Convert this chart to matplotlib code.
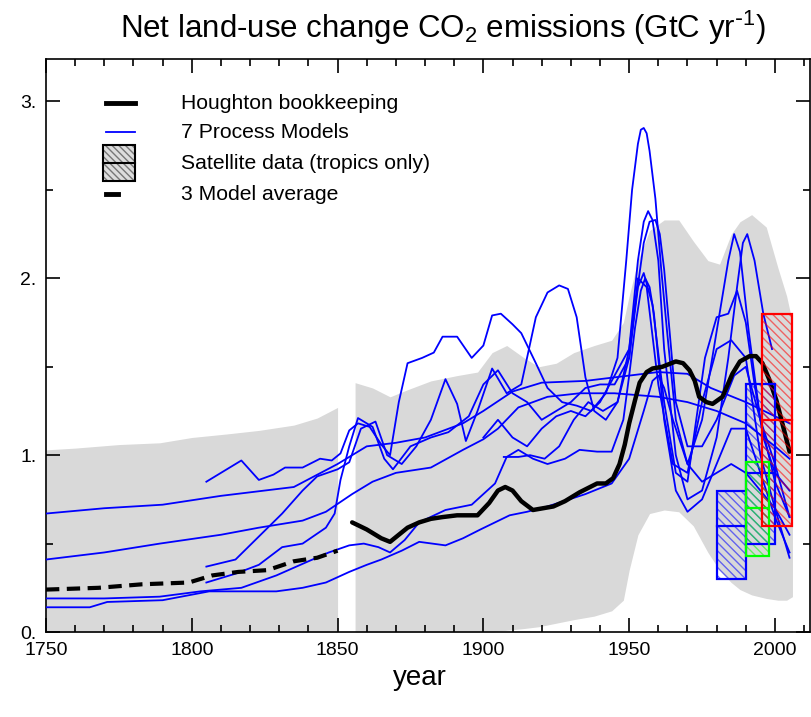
import matplotlib
matplotlib.use('Agg')
import matplotlib.pyplot as plt
from matplotlib.patches import Rectangle
from matplotlib.lines import Line2D
from matplotlib.ticker import MultipleLocator, FuncFormatter

plt.rcParams['font.family'] = ['Liberation Sans', 'DejaVu Sans']
plt.rcParams['mathtext.default'] = 'regular'

# grey envelope (two pieces, gap around 1850-1856)
env1_years = [1750, 1760, 1775, 1789, 1800, 1812, 1823, 1835, 1843, 1850]
env1_upper = [1.03, 1.04, 1.06, 1.07, 1.10, 1.12, 1.14, 1.17, 1.21, 1.27]
env1_lower = [0, 0, 0, 0, 0, 0, 0, 0, 0, 0]

env2_years = [1856, 1862, 1868, 1874, 1882, 1891, 1898, 1903, 1908, 1914,
              1919, 1925, 1931, 1938, 1944, 1948, 1950, 1953, 1957, 1962,
              1967, 1972, 1977, 1981, 1985, 1988, 1992, 1997, 2001, 2004, 2006]
env2_upper = [1.41, 1.38, 1.33, 1.37, 1.42, 1.45, 1.47, 1.58, 1.62, 1.55,
              1.50, 1.52, 1.58, 1.62, 1.65, 1.75, 1.90, 2.10, 2.27, 2.33,
              2.33, 2.21, 2.10, 2.08, 2.25, 2.32, 2.36, 2.29, 2.06, 1.90, 1.75]
env2_lower = [0, 0, 0, 0, 0, 0, 0, 0, 0.01, 0.02,
              0.03, 0.05, 0.07, 0.09, 0.12, 0.18, 0.35, 0.55, 0.67, 0.69,
              0.68, 0.60, 0.45, 0.35, 0.28, 0.24, 0.21, 0.19, 0.18, 0.18, 0.20]

# Houghton bookkeeping
hough_years = [1855, 1860, 1865, 1868, 1871, 1874, 1878, 1882, 1886, 1891, 1898,
               1902, 1905, 1907.5, 1910, 1913, 1917, 1924, 1928, 1933, 1939,
               1942, 1944.5, 1946.7, 1948.5, 1950, 1952, 1953.6, 1956, 1958,
               1961.4, 1966, 1968.5, 1970.7, 1972.5, 1974, 1976.5, 1978.6, 1982,
               1985.4, 1988, 1991.3, 1993.5, 1995.7, 1998, 2000.5, 2003, 2005]
hough_vals = [0.62, 0.58, 0.53, 0.51, 0.55, 0.59, 0.62, 0.64, 0.65, 0.66, 0.66,
              0.73, 0.80, 0.82, 0.80, 0.74, 0.69, 0.71, 0.74, 0.79, 0.84,
              0.84, 0.87, 0.95, 1.06, 1.18, 1.31, 1.41, 1.47, 1.49,
              1.50, 1.53, 1.52, 1.48, 1.42, 1.33, 1.30, 1.29, 1.33,
              1.46, 1.53, 1.56, 1.56, 1.52, 1.43, 1.31, 1.15, 1.02]

# 3 model average
avg_years = [1750, 1768, 1783, 1799, 1807, 1816, 1826, 1835, 1843, 1850]
avg_vals = [0.24, 0.25, 0.27, 0.28, 0.32, 0.34, 0.35, 0.40, 0.42, 0.46]

# process models
model_a_years = [1750, 1770, 1790, 1810, 1835, 1850, 1860, 1870, 1880, 1893, 1900,
                 1910, 1920, 1935, 1945, 1960, 1970, 1978, 1990, 2000, 2005]
model_a_vals = [0.67, 0.70, 0.72, 0.77, 0.82, 0.95, 1.05, 1.07, 1.10, 1.18, 1.25,
                1.36, 1.41, 1.42, 1.44, 1.47, 1.46, 1.38, 1.30, 1.22, 1.18]

model_b_years = [1750, 1770, 1789, 1810, 1823, 1838, 1846, 1855, 1862, 1870, 1882,
                 1893, 1900, 1905, 1912, 1922, 1933, 1945, 1960, 1970, 1980, 1990,
                 2000, 2005]
model_b_vals = [0.41, 0.45, 0.50, 0.55, 0.59, 0.63, 0.68, 0.78, 0.85, 0.90, 0.93,
                1.03, 1.09, 1.15, 1.27, 1.33, 1.35, 1.35, 1.33, 1.30, 1.25, 1.18,
                1.05, 0.98]

model_c_years = [1750, 1770, 1789, 1803, 1817, 1829, 1840, 1847, 1854, 1859, 1864,
                 1868, 1873, 1878, 1887, 1896, 1904, 1908, 1912, 1917, 1922, 1928,
                 1933, 1939, 1944, 1948, 1950, 1952, 1954, 1955.5, 1957, 1958.5,
                 1962, 1966, 1970, 1975, 1980, 1985, 1990, 1995, 2000, 2005]
model_c_vals = [0.19, 0.19, 0.20, 0.23, 0.25, 0.32, 0.40, 0.45, 0.49, 0.50, 0.48,
                0.45, 0.52, 0.62, 0.69, 0.72, 0.84, 0.99, 1.03, 0.98, 0.95, 0.98,
                1.03, 1.02, 1.02, 1.20, 1.45, 1.72, 1.93, 2.00, 1.95, 1.80,
                1.20, 0.80, 0.68, 0.75, 0.95, 1.15, 1.15, 0.90, 0.65, 0.45]

model_d_years = [1750, 1765, 1771, 1790, 1806, 1818, 1829, 1838, 1846, 1854, 1860,
                 1865, 1872, 1878, 1887, 1893, 1899, 1909, 1915, 1922, 1935, 1944,
                 1950, 1955, 1958, 1960, 1962, 1965, 1970, 1975, 1980, 1985, 1990,
                 1995, 2000, 2005]
model_d_vals = [0.14, 0.14, 0.17, 0.18, 0.23, 0.23, 0.23, 0.25, 0.28, 0.34, 0.38,
                0.41, 0.46, 0.51, 0.49, 0.53, 0.58, 0.66, 0.68, 0.71, 0.78, 0.84,
                0.98, 1.25, 1.42, 1.45, 1.38, 1.20, 0.95, 0.85, 0.90, 0.95, 0.90,
                0.80, 0.70, 0.55]

model_e_years = [1805, 1811, 1817, 1823, 1828, 1832, 1838, 1844, 1848, 1851, 1854,
                 1857, 1861, 1865, 1868, 1871, 1874, 1879, 1883, 1886, 1891, 1896,
                 1900, 1903, 1906, 1910, 1913, 1918, 1922, 1927, 1932, 1937, 1942,
                 1946, 1949, 1951, 1953, 1954, 1955, 1956, 1957, 1959, 1961, 1963,
                 1966, 1970, 1975, 1980, 1984, 1986, 1988, 1991, 1995, 2000, 2005]
model_e_vals = [0.85, 0.91, 0.97, 0.86, 0.89, 0.93, 0.93, 0.98, 0.97, 1.01, 1.14,
                1.18, 1.16, 1.06, 1.00, 1.30, 1.52, 1.55, 1.58, 1.67, 1.67, 1.55,
                1.62, 1.79, 1.80, 1.74, 1.69, 1.52, 1.38, 1.30, 1.28, 1.25, 1.35,
                1.55, 2.10, 2.50, 2.76, 2.84, 2.85, 2.82, 2.72, 2.45, 2.05, 1.70,
                1.20, 0.95, 1.20, 1.70, 2.10, 2.25, 2.15, 1.70, 1.20, 0.85, 0.65]

model_f_years = [1805, 1815, 1823, 1831, 1838, 1843, 1850, 1854, 1858, 1863, 1867,
                 1872, 1877, 1882, 1887, 1891, 1894, 1898, 1903, 1908, 1913, 1918,
                 1922, 1926, 1929, 1932, 1935, 1938, 1942, 1946, 1950, 1953, 1955,
                 1956.5, 1958, 1960, 1962, 1966, 1970, 1975, 1980, 1984, 1987, 1989,
                 1990.5, 1993, 1996, 1999]
model_f_vals = [0.37, 0.41, 0.54, 0.67, 0.80, 0.88, 0.92, 0.96, 1.15, 1.19, 1.00,
                0.95, 1.05, 1.20, 1.43, 1.29, 1.08, 1.25, 1.49, 1.35, 1.40, 1.78,
                1.92, 1.96, 1.94, 1.78, 1.44, 1.25, 1.20, 1.30, 1.60, 2.10, 2.32,
                2.38, 2.33, 2.10, 1.60, 1.00, 0.75, 0.80, 1.10, 1.55, 1.95, 2.20,
                2.25, 2.10, 1.80, 1.60]

model_g_years = [1805, 1815, 1823, 1831, 1838, 1846, 1849, 1851, 1854, 1857, 1862,
                 1866, 1869, 1875, 1882, 1888, 1895, 1900, 1905, 1910, 1915, 1920,
                 1925, 1930, 1935, 1940, 1945, 1950, 1953, 1955, 1958, 1962, 1966,
                 1970, 1973, 1976, 1980, 1984, 1987, 1990, 1993, 1996, 2000, 2005]
model_g_vals = [0.28, 0.33, 0.38, 0.48, 0.50, 0.59, 0.67, 0.86, 1.05, 1.21, 1.16,
                0.98, 0.92, 1.05, 1.10, 1.13, 1.22, 1.40, 1.48, 1.35, 1.30, 1.20,
                1.25, 1.30, 1.38, 1.40, 1.40, 1.55, 1.95, 2.03, 1.85, 1.30, 0.90,
                0.85, 1.20, 1.55, 1.78, 1.80, 1.93, 1.75, 1.40, 1.10, 0.90, 0.80]

model_h_years = [1907, 1912, 1916, 1921, 1926, 1931, 1936, 1941, 1946, 1950, 1953,
                 1956, 1960, 1965, 1970, 1975, 1980, 1985, 1990, 1995, 2000, 2005]
model_h_vals = [0.99, 0.99, 1.00, 0.98, 1.05, 1.20, 1.30, 1.25, 1.30, 1.55, 2.00,
                1.95, 1.40, 0.95, 0.90, 1.30, 1.60, 1.65, 1.55, 1.00, 0.70, 0.42]

model_i_years = [1900, 1905, 1910, 1915, 1920, 1925, 1930, 1935, 1940, 1945, 1950,
                 1955, 1957, 1959, 1960.5, 1962, 1966, 1970, 1975, 1980, 1986, 1990,
                 1995, 2000, 2005]
model_i_vals = [1.10, 1.20, 1.10, 1.05, 1.15, 1.22, 1.25, 1.22, 1.30, 1.45, 1.60,
                2.20, 2.32, 2.33, 2.25, 2.05, 1.30, 1.05, 1.05, 1.20, 1.45, 1.50,
                1.20, 0.95, 0.65]

models = [
    (model_a_years, model_a_vals), (model_b_years, model_b_vals),
    (model_c_years, model_c_vals), (model_d_years, model_d_vals),
    (model_e_years, model_e_vals), (model_f_years, model_f_vals),
    (model_g_years, model_g_vals), (model_h_years, model_h_vals),
    (model_i_years, model_i_vals),
]

# satellite boxes: (start, end, low, mid, high, colour)
sat_start = [1980, 1990, 1990, 1995.5]
sat_end = [1990, 2000, 1998, 2006]
sat_low = [0.30, 0.50, 0.43, 0.60]
sat_mid = [0.60, 0.90, 0.70, 1.20]
sat_high = [0.80, 1.40, 0.96, 1.80]
sat_colors = ['#0000ff', '#0000ff', '#00ff00', '#ff0000']

legend_labels = ['Houghton bookkeeping', '7 Process Models',
                 'Satellite data (tropics only)', '3 Model average']


def main():
    fig = plt.figure(figsize=(8.11, 7.17), dpi=100)
    ax = fig.add_axes([0.0567, 0.1185, 0.942, 0.7992])

    grey = '#d9d9d9'
    ax.fill_between(env1_years, env1_lower, env1_upper, color=grey, lw=0, zorder=1)
    ax.fill_between(env2_years, env2_lower, env2_upper, color=grey, lw=0, zorder=1)

    for yrs, vals in models:
        ax.plot(yrs, vals, color='#0000ff', lw=1.3, zorder=3,
                solid_joinstyle='round')

    ax.plot(avg_years, avg_vals, color='black', lw=3, dashes=(3.2, 1.8), zorder=4)
    ax.plot(hough_years, hough_vals, color='black', lw=3.2, zorder=5,
            solid_capstyle='round', solid_joinstyle='round')

    for x0, x1, lo, mid, hi, col in zip(sat_start, sat_end, sat_low, sat_mid,
                                        sat_high, sat_colors):
        rgba = matplotlib.colors.to_rgba(col, 0.55)
        ax.add_patch(Rectangle((x0, lo), x1 - x0, hi - lo, fill=False,
                               hatch='\\\\\\\\', edgecolor=rgba, lw=0, zorder=6))
        ax.add_patch(Rectangle((x0, lo), x1 - x0, hi - lo, fill=False,
                               edgecolor=col, lw=1.6, zorder=7))
        ax.plot([x0, x1], [mid, mid], color=col, lw=1.6, zorder=7)

    ax.set_xlim(1750, 2012)
    ax.set_ylim(0, 3.24)
    ax.xaxis.set_major_locator(MultipleLocator(50))
    ax.xaxis.set_minor_locator(MultipleLocator(10))
    ax.yaxis.set_major_locator(MultipleLocator(1))
    ax.yaxis.set_minor_locator(MultipleLocator(0.5))
    ax.yaxis.set_major_formatter(FuncFormatter(lambda v, p: f"{v:.0f}."))
    ax.tick_params(which='both', direction='in', top=True, right=True,
                   width=1.2, colors='black')
    ax.tick_params(which='major', length=10)
    ax.tick_params(which='minor', length=5)
    ax.tick_params(axis='x', pad=7)
    ax.tick_params(axis='y', pad=7)
    for lab in ax.get_xticklabels() + ax.get_yticklabels():
        lab.set_fontsize(14)
    for sp in ax.spines.values():
        sp.set_linewidth(1.2)

    # legend drawn by hand
    tr = ax.transAxes
    rows = [0.9232, 0.8726, 0.8185, 0.7644]
    ax.add_line(Line2D([0.078, 0.116], [rows[0]] * 2, color='black', lw=3.5,
                       transform=tr, zorder=10))
    ax.add_line(Line2D([0.078, 0.116], [rows[1]] * 2, color='#0000ff', lw=1.3,
                       transform=tr, zorder=10))
    ax.add_patch(Rectangle((0.0752, 0.7871), 0.0408, 0.0628, transform=tr,
                           facecolor='#dddddd', hatch='\\\\\\\\\\',
                           edgecolor='#777777', lw=0, zorder=10))
    ax.add_patch(Rectangle((0.0752, 0.7871), 0.0408, 0.0628, transform=tr,
                           fill=False, edgecolor='black', lw=1.5, zorder=11))
    ax.add_line(Line2D([0.0752, 0.116], [rows[2]] * 2, color='black', lw=1.5,
                       transform=tr, zorder=11))
    ax.add_line(Line2D([0.079, 0.094], [rows[3]] * 2, color='black', lw=3.5,
                       transform=tr, zorder=10))
    for yy, lab in zip(rows, legend_labels):
        ax.text(0.1765, yy, lab, transform=tr, fontsize=15.2, va='center',
                ha='left', zorder=10)

    fig.text(0.5456, 1 - 28 / 717,
             r'Net land-use change CO$_2$ emissions (GtC yr$^{\text{-}1}$)',
             fontsize=22.5, ha='center', va='center')
    fig.text(0.518, 1 - 678 / 717, 'year', fontsize=20, ha='center',
             va='center')

    fig.savefig('out.png', dpi=100)


if __name__ == "__main__":
    main()
